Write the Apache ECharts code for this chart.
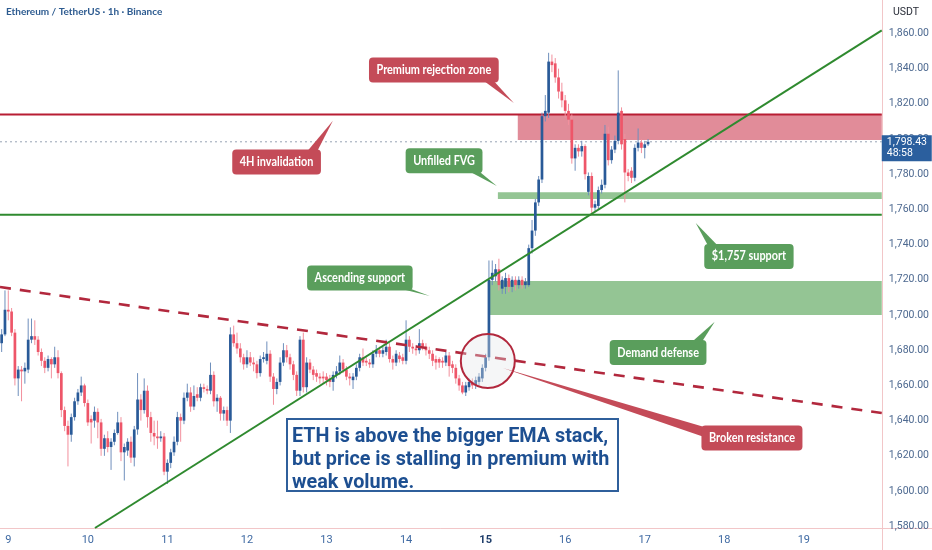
<!DOCTYPE html>
<html><head><meta charset="utf-8">
<script src="https://cdn.jsdelivr.net/npm/echarts@6/dist/echarts.min.js"></script>
<style>html,body{margin:0;padding:0;background:#fff}#c{width:932px;height:550px}</style>
</head><body><div id="c"></div><script>
// ---- data ----
const chartTitle = 'Ethereum / TetherUS · 1h · Binance';
const quoteUnit = 'USDT';
const firstDay = 9, lastDay = 19;          // day labels on the time axis
const hoursBeforeFirstDay = 2;             // first candle is 22:00 the day before
const totalHours = 266;                    // hourly slots on the axis
const highlightDay = 15;
const priceTicks = [1580,1600,1620,1640,1660,1680,1700,1720,1740,1760,1780,1800,1820,1840,1860];
const priceMin = 1579, priceMax = 1879;
// hourly candles: [open, close, low, high]
const ohlc = [
[1684,1689,1679,1692],[1689,1703,1688,1714],[1703,1702,1697,1714],[1702,1690,1688,1704],[1690,1664,1660,1692],
[1664,1669,1654,1671],[1669,1668,1651,1671],[1668,1670,1661,1673],[1669,1686,1667,1698],[1686,1688,1684,1698],
[1688,1686,1683,1697],[1686,1679,1677,1688],[1679,1674,1671,1681],[1674,1670,1667,1676],[1670,1675,1668,1677],
[1675,1672,1664,1676],[1672,1676,1670,1682],[1676,1667,1664,1680],[1667,1646,1642,1668],[1646,1637,1634,1648],
[1637,1632,1614,1640],[1632,1642,1628,1644],[1642,1651,1640,1653],[1651,1656,1649,1658],[1656,1660,1654,1665],
[1660,1650,1648,1661],[1650,1639,1637,1652],[1641,1639,1627,1643],[1640,1645,1636,1648],[1645,1639,1630,1647],
[1639,1624,1620,1641],[1624,1630,1620,1632],[1630,1625,1622,1634],[1625,1628,1612,1630],[1628,1633,1626,1635],
[1633,1639,1632,1645],[1639,1622,1617,1642],[1622,1625,1606,1627],[1623,1628,1620,1630],[1628,1619,1616,1631],
[1619,1635,1614,1637],[1635,1652,1632,1667],[1652,1646,1640,1655],[1646,1657,1644,1664],[1657,1642,1636,1660],
[1642,1633,1628,1645],[1633,1631,1626,1640],[1631,1630,1624,1640],[1630,1631,1628,1634],[1631,1611,1609,1633],
[1611,1616,1604,1618],[1616,1622,1613,1624],[1622,1628,1620,1631],[1628,1642,1626,1645],[1642,1640,1628,1644],
[1640,1653,1638,1656],[1653,1656,1651,1661],[1656,1648,1645,1659],[1648,1654,1646,1660],[1655,1653,1651,1659],
[1653,1659,1651,1661],[1659,1658,1656,1661],[1658,1657,1655,1660],[1657,1666,1655,1673],[1666,1651,1648,1668],
[1651,1653,1645,1655],[1653,1644,1640,1654],[1644,1646,1640,1648],[1646,1640,1637,1648],[1640,1689,1633,1693],
[1689,1684,1682,1694],[1684,1681,1678,1690],[1681,1676,1673,1684],[1676,1672,1669,1678],[1672,1676,1670,1680],
[1676,1673,1671,1679],[1673,1672,1668,1676],[1672,1667,1664,1674],[1667,1675,1665,1677],[1675,1676,1673,1679],
[1674,1678,1672,1685],[1678,1665,1662,1680],[1665,1658,1649,1667],[1658,1662,1655,1664],[1662,1673,1660,1676],
[1673,1680,1671,1684],[1680,1676,1673,1683],[1676,1672,1669,1678],[1672,1666,1663,1674],[1666,1657,1654,1668],
[1657,1686,1654,1688],[1686,1659,1656,1690],[1659,1673,1656,1676],[1673,1669,1667,1675],[1669,1666,1663,1671],
[1667,1665,1662,1669],[1665,1664,1661,1667],[1665,1664,1661,1668],[1665,1663,1660,1667],[1664,1662,1659,1666],
[1662,1666,1657,1668],[1666,1668,1664,1671],[1668,1673,1666,1677],[1673,1669,1667,1675],[1669,1665,1663,1671],
[1665,1664,1660,1667],[1663,1665,1658,1667],[1665,1670,1663,1672],[1670,1676,1668,1678],[1676,1673,1671,1681],
[1674,1673,1671,1676],[1673,1672,1670,1675],[1672,1678,1670,1680],[1678,1680,1676,1683],[1680,1678,1676,1682],
[1678,1680,1676,1682],[1679,1682,1677,1686],[1682,1675,1673,1684],[1675,1673,1669,1677],[1673,1678,1671,1680],
[1677,1675,1673,1679],[1676,1674,1672,1678],[1674,1686,1672,1697],[1686,1682,1679,1688],[1682,1681,1678,1684],
[1681,1680,1677,1683],[1680,1684,1678,1692],[1684,1682,1680,1686],[1682,1680,1677,1684],[1680,1678,1675,1682],
[1678,1674,1671,1680],[1675,1673,1669,1677],[1675,1673,1670,1676],[1674,1673,1670,1676],[1673,1677,1671,1679],
[1677,1671,1665,1679],[1672,1670,1667,1674],[1670,1664,1661,1672],[1664,1660,1657,1666],[1660,1656,1655,1662],
[1656,1660,1654,1662],[1659,1662,1657,1664],[1662,1660,1658,1664],[1660,1663,1658,1665],[1662,1665,1660,1667],
[1664,1670,1662,1672],[1670,1676,1668,1678],[1676,1720,1674,1731],[1720,1724,1717,1731],[1722,1726,1719,1729],
[1726,1717,1714,1732],[1715,1720,1712,1722],[1716,1721,1712,1724],[1721,1716,1713,1723],[1716,1720,1713,1722],
[1720,1717,1714,1722],[1717,1720,1715,1722],[1720,1717,1715,1722],[1717,1719,1715,1721],[1717,1738,1716,1740],
[1738,1748,1735,1754],[1748,1764,1745,1766],[1764,1777,1762,1779],[1777,1813,1775,1815],[1813,1816,1810,1825],
[1815,1844,1812,1849],[1844,1842,1838,1848],[1843,1835,1832,1846],[1835,1827,1823,1840],[1827,1822,1818,1832],
[1822,1816,1812,1825],[1816,1811,1808,1820],[1811,1789,1786,1814],[1789,1795,1782,1797],[1795,1793,1790,1797],
[1793,1796,1790,1799],[1796,1780,1777,1797],[1770,1779,1768,1781],[1779,1761,1758,1781],[1761,1763,1759,1765],
[1762,1771,1760,1773],[1771,1774,1769,1777],[1774,1803,1772,1808],[1803,1788,1785,1807],[1788,1794,1786,1796],
[1794,1799,1792,1802],[1799,1815,1797,1839],[1816,1797,1794,1818],[1800,1781,1764,1803],[1781,1779,1776,1783],
[1782,1778,1775,1784],[1778,1795,1776,1797],[1795,1798,1793,1806],[1798,1795,1792,1800],[1795,1797,1789,1799],
[1797,1798.43,1796,1800]
];
const lastPrice = 1798.43;
const barCountdown = '48:58';
const invalidationLevel = 1814;
const supportLevel = 1757;
// zones: start slot (hours index) and price band
const zones = [
  {kind:'bear', from:155.7, top:1814, bottom:1799.5},
  {kind:'bull', from:149.7, top:1769.8, bottom:1765.9},
  {kind:'bull', from:147.3, top:1719.3, bottom:1700}
];
// trend lines: [slot, price] -> [slot, price]
const trendLines = [
  {kind:'rising', from:[28.15,1579], to:[265.5,1861.7]},
  {kind:'falling', from:[-0.5,1715.9], to:[265.5,1644.3]}
];
const breakoutPoint = [146.66, 1673.9];
// callouts: label, box centre [slot, price], pointer tip [slot, price], edge where the pointer leaves the box
const callouts = [
  {text:'Premium rejection zone', kind:'bear', at:[130.38,1839.2], tip:[154.5,1820.5], edge:[0.84,1]},
  {text:'4H invalidation', kind:'bear', at:[82.94,1787.0], tip:[99.92,1810.4], edge:[0.8,-1]},
  {text:'Unfilled FVG', kind:'bull', at:[133.46,1787.6], tip:[149.38,1773.3], edge:[0.78,1]},
  {text:'Ascending support', kind:'bull', at:[108.06,1721.0], tip:[129.17,1710.8], edge:[0.85,1]},
  {text:'$1,757 support', kind:'bull', at:[225.43,1733.3], tip:[209.39,1752.3], edge:[-0.8,-1]},
  {text:'Demand defense', kind:'bull', at:[198.02,1678.7], tip:[215.12,1696.2], edge:[0.8,-1]},
  {text:'Broken resistance', kind:'bear', at:[226.34,1630.1], tip:[151.19,1669.9], edge:[-1,-0.5]}
];
const noteText = ['ETH is above the bigger EMA stack,', 'but price is stalling in premium with', 'weak volume.'];

// ---- styles ----
const C = {
  up:'#295a98', down:'#ee5669', upWick:'#6f8fbc', downWick:'#f2909d',
  bearLine:'#b81d33', bullLine:'#2f8a2f', dash:'#b2283d',
  bearZone:'rgba(200,45,70,0.55)', bullZone:'rgba(60,150,60,0.55)',
  bearTag:'#c44b58', bullTag:'#5a9e5c', axis:'#f2c6c8', axisText:'#4d6990'
};

// ---- categories (hourly slots) ----
const slots = [];
for (let k = 0; k < totalHours; k++) {
  const h = k - hoursBeforeFirstDay;
  const day = firstDay + Math.floor(h / 24);
  const hr = ((h % 24) + 24) % 24;
  slots.push(day + ' ' + String(hr).padStart(2,'0') + ':00');
}

const chart = echarts.init(document.getElementById('c'));
const measure = document.createElement('canvas').getContext('2d');
function textW(t, font){ measure.font = font; return measure.measureText(t).width; }
function xAt(api, idx){ const a = api.coord([0, 1700])[0], b = api.coord([1, 1700])[0]; return a + (b - a) * idx; }
function yAt(api, p){ return api.coord([0, p])[1]; }
const fmtPrice = v => Number(v).toLocaleString('en-US',{minimumFractionDigits:2, maximumFractionDigits:2});
const tagFont = 'bold 12.5px Lato';
const tagSquash = 0.87;

const option = {
  animation:false,
  backgroundColor:'#ffffff',
  grid:{left:0, top:0, right:50, bottom:22},
  xAxis:{
    type:'category', data:slots, boundaryGap:true,
    axisLine:{lineStyle:{color:C.axis}}, axisTick:{show:false}, splitLine:{show:false},
    axisLabel:{
      interval:(i, v) => v.endsWith(' 00:00'),
      formatter:(v) => { const d = parseInt(v, 10); return d === highlightDay ? '{b|' + d + '}' : String(d); },
      color:'#3f6aa3', fontSize:11, margin:7, fontFamily:'Roboto',
      rich:{b:{fontWeight:'bold', color:'#1f3e6b', fontSize:11, fontFamily:'Roboto'}}
    }
  },
  yAxis:{
    type:'value', position:'right', min:priceMin, max:priceMax,
    axisLine:{show:true, lineStyle:{color:C.axis}}, axisTick:{show:false}, splitLine:{show:false},
    axisLabel:{customValues:priceTicks, formatter:fmtPrice, color:C.axisText, fontSize:10.5, margin:7, fontFamily:'Roboto'}
  },
  graphic:[
    {type:'text', left:6, top:7, style:{text:chartTitle, font:'bold 10px Lato', fill:'#2d5b90'}},
    {type:'text', left:893, top:7, style:{text:quoteUnit, font:'10.5px Roboto', fill:'#2a2e39'}},
    {type:'line', shape:{x1:882.5, y1:528, x2:882.5, y2:550}, style:{stroke:C.axis, lineWidth:1}},
    {type:'line', shape:{x1:882, y1:528.5, x2:932, y2:528.5}, style:{stroke:C.axis, lineWidth:1}},
    {type:'group', left:286, top:418, z:100, children:[
      {type:'rect', shape:{x:0, y:0, width:331, height:72}, style:{fill:'#ffffff', stroke:'#2f5f9b', lineWidth:2}},
      {type:'text', x:5, y:7, style:{text:noteText.join('\n'), font:'bold 19.8px Roboto', fill:'#1d4f91', lineHeight:23}}
    ]}
  ],
  series:[
    { // zones
      type:'custom', z:1, silent:true,
      data:zones.map(z => [Math.round(z.from), z.top]),
      renderItem:(params, api) => {
        const z = zones[params.dataIndex];
        const right = params.coordSys.x + params.coordSys.width;
        const x0 = xAt(api, z.from), y0 = yAt(api, z.top), y1 = yAt(api, z.bottom);
        return {type:'rect', shape:{x:x0, y:y0, width:right - x0, height:y1 - y0},
          style:{fill: z.kind === 'bear' ? C.bearZone : C.bullZone}};
      }
    },
    { // horizontal levels
      type:'custom', z:2, silent:true,
      data:[[0, invalidationLevel], [0, supportLevel], [0, lastPrice]],
      renderItem:(params, api) => {
        const cs = params.coordSys;
        const y = yAt(api, api.value(1));
        const i = params.dataIndex;
        const style = i === 0 ? {stroke:C.bearLine, lineWidth:2}
                    : i === 1 ? {stroke:C.bullLine, lineWidth:2}
                    : {stroke:'#97a3b4', lineWidth:1, lineDash:[2,3]};
        return {type:'line', shape:{x1:cs.x, y1:y, x2:cs.x + cs.width, y2:y}, style:style};
      }
    },
    { // candles
      type:'custom', z:3, silent:true,
      data:ohlc.map((r, i) => [i, r[0], r[1], r[2], r[3]]),
      encode:{x:0, y:[1,2,3,4]},
      renderItem:(params, api) => {
        const i = api.value(0), o = api.value(1), c = api.value(2), l = api.value(3), h = api.value(4);
        const x = api.coord([i, o])[0];
        const yo = yAt(api, o), yc = yAt(api, c), yl = yAt(api, l), yh = yAt(api, h);
        const up = c >= o;
        const top = Math.min(yo, yc), hgt = Math.max(1.2, Math.abs(yo - yc));
        return {type:'group', children:[
          {type:'line', shape:{x1:x, y1:yh, x2:x, y2:yl}, style:{stroke: up ? C.upWick : C.downWick, lineWidth:1}},
          {type:'rect', shape:{x:x - 1.35, y:top, width:2.7, height:hgt}, style:{fill: up ? C.up : C.down}}
        ]};
      }
    },
    { // trend lines
      type:'custom', z:4, silent:true,
      data:trendLines.map(t => [Math.max(0, Math.round(t.from[0])), t.from[1]]),
      renderItem:(params, api) => {
        const t = trendLines[params.dataIndex];
        const shape = {x1:xAt(api, t.from[0]), y1:yAt(api, t.from[1]), x2:xAt(api, t.to[0]), y2:yAt(api, t.to[1])};
        const style = t.kind === 'rising' ? {stroke:C.bullLine, lineWidth:2}
                    : {stroke:C.dash, lineWidth:2.6, lineDash:[11,9]};
        return {type:'line', shape:shape, style:style};
      }
    },
    { // breakout circle
      type:'custom', z:5, silent:true,
      data:[[Math.round(breakoutPoint[0]), breakoutPoint[1]]],
      renderItem:(params, api) => ({
        type:'circle', shape:{cx:xAt(api, breakoutPoint[0]), cy:yAt(api, breakoutPoint[1]), r:27},
        style:{fill:'rgba(225,228,232,0.35)', stroke:C.dash, lineWidth:2}
      })
    },
    { // callouts
      type:'custom', z:6, silent:true,
      data:callouts.map(c => [Math.round(c.at[0]), c.at[1]]),
      renderItem:(params, api) => {
        const c = callouts[params.dataIndex];
        const col = c.kind === 'bear' ? C.bearTag : C.bullTag;
        const cx = xAt(api, c.at[0]), cy = yAt(api, c.at[1]);
        const tx = xAt(api, c.tip[0]), ty = yAt(api, c.tip[1]);
        const w = textW(c.text, tagFont) * tagSquash + 15, h = 25;
        const hw = w / 2, hh = h / 2;
        const ex = cx + c.edge[0] * hw, ey = cy + c.edge[1] * hh;
        let b1, b2;
        if (Math.abs(c.edge[1]) === 1) { b1 = [ex - 5, ey - c.edge[1] * 2]; b2 = [ex + 5, ey - c.edge[1] * 2]; }
        else { b1 = [ex - c.edge[0] * 2, ey - 5]; b2 = [ex - c.edge[0] * 2, ey + 5]; }
        return {type:'group', children:[
          {type:'polygon', shape:{points:[b1, b2, [tx, ty]]}, style:{fill:col}},
          {type:'rect', shape:{x:cx - hw, y:cy - hh, width:w, height:h, r:4}, style:{fill:col}},
          {type:'text', x:cx, y:cy, scaleX:tagSquash, originX:0, originY:0,
            style:{text:c.text, x:0, y:0, font:tagFont, fill:'#ffffff', align:'center', verticalAlign:'middle'}}
        ]};
      }
    },
    { // last price tag
      type:'custom', z:7, silent:true,
      data:[[ohlc.length - 1, lastPrice]],
      renderItem:(params, api) => {
        const cs = params.coordSys;
        const y = yAt(api, api.value(1));
        return {type:'text', x:cs.x + cs.width, y:y - 6.5,
          style:{text:fmtPrice(lastPrice) + '\n' + barCountdown, font:'10.5px Roboto', fill:'#ffffff',
            backgroundColor:'#2b5f9e', padding:[1,5,2,5], lineHeight:11.5, width:40, align:'left', verticalAlign:'top'}};
      }
    }
  ]
};
chart.setOption(option);
</script></body></html>
